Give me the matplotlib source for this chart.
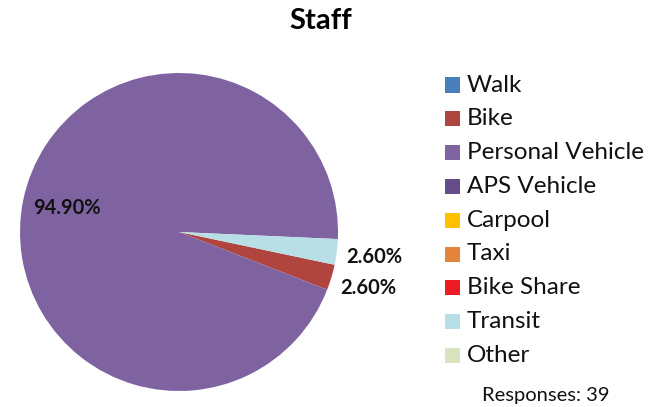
import numpy as np
import matplotlib
matplotlib.use("Agg")
import matplotlib.pyplot as plt
from matplotlib.patches import Rectangle

title = "Staff"
categories = ["Walk", "Bike", "Personal Vehicle", "APS Vehicle", "Carpool",
              "Taxi", "Bike Share", "Transit", "Other"]
values = [0.0, 2.6, 94.9, 0.0, 0.0, 0.0, 0.0, 2.6, 0.0]
colors = ["#4A7EBB", "#B0443F", "#7F63A1", "#654C8A", "#FFC000",
          "#E5843A", "#ED1C24", "#B9DFE6", "#D7E4BD"]
responses = 39

plt.rcParams['font.family'] = ['Lato', 'DejaVu Sans']

W, H = 667, 407
fig = plt.figure(figsize=(W / 100, H / 100), dpi=100)

cx, cy, r = 179, 232, 159
ax = fig.add_axes([(cx - r) / W, (H - cy - r) / H, 2 * r / W, 2 * r / H])
start = -11.9
wedges, _ = ax.pie(values, colors=colors, startangle=start, counterclock=False,
                   radius=1.0, wedgeprops=dict(linewidth=0))
ax.set_xlim(-1, 1)
ax.set_ylim(-1, 1)
ax.set_aspect('equal')
ax.axis('off')

total = sum(values)
for w, v in zip(wedges, values):
    if v <= 0:
        continue
    mid = np.deg2rad((w.theta1 + w.theta2) / 2)
    frac = v / total
    d = 0.72 if frac > 0.5 else 1.24
    ax.text(d * np.cos(mid), d * np.sin(mid), f"{v:.2f}%", ha='center', va='center',
            fontsize=14.5, fontweight='bold', color='#111111')

fig.text(321 / W, 1 - 21 / H, title, ha='center', va='center', fontsize=21,
         fontweight='bold', color='#000000')

y0, dy = 85, 33.8
for i, (lab, col) in enumerate(zip(categories, colors)):
    y = y0 + i * dy
    fig.patches.append(Rectangle((445 / W, 1 - (y + 7.5) / H), 15 / W, 15 / H,
                                 transform=fig.transFigure, facecolor=col,
                                 edgecolor='none'))
    fig.text(467 / W, 1 - y / H, lab, ha='left', va='center', fontsize=17.5,
             color='#111111')

fig.text(546 / W, 1 - 395 / H, f"Responses: {responses}", ha='center', va='center',
         fontsize=14.5, color='#111111')

fig.savefig("out.png", dpi=100, facecolor='white')
